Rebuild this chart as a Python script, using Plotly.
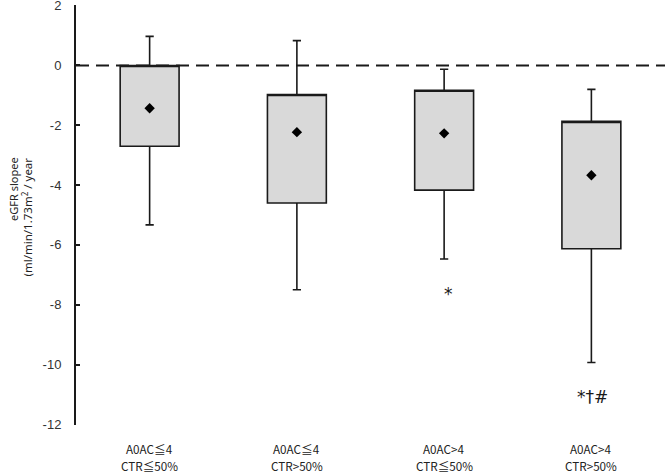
import plotly.graph_objects as go

cat_line1 = ["A0AC≦4", "A0AC≦4", "A0AC>4", "A0AC>4"]
cat_line2 = ["CTR≦50%", "CTR>50%", "CTR≦50%", "CTR>50%"]
q1 = [-2.70, -4.60, -4.17, -6.13]
q3 = [0.0, -0.97, -0.83, -1.87]
lower = [-5.33, -7.50, -6.47, -9.93]
upper = [0.97, 0.83, -0.13, -0.80]
means = [-1.43, -2.23, -2.27, -3.67]
sig_labels = ["", "", "*", "*†#"]
sig_y = [None, None, -7.63, -11.07]
ytick_vals = [2, 0, -2, -4, -6, -8, -10, -12]
ytick_text = ["2", "0", "-2", "-4", "-6", "-8", "-10", "-12"]

xpos = list(range(len(cat_line1)))

fig = go.Figure()
fig.add_trace(go.Box(
    x=xpos, q1=q1, q3=q3, median=q3, lowerfence=lower, upperfence=upper,
    fillcolor="#d9d9d9", line=dict(color="#1a1a1a", width=1.6),
    width=0.4, whiskerwidth=0.14, boxpoints=False, showlegend=False,
    hoverinfo="skip"))
fig.add_trace(go.Scatter(
    x=xpos, y=means, mode="markers",
    marker=dict(symbol="diamond", size=8, color="black"),
    showlegend=False, hoverinfo="skip"))

fig.add_shape(type="line", xref="paper", yref="y", x0=0, x1=1, y0=0, y1=0,
              line=dict(color="#1a1a1a", width=2, dash="13px,7px"), layer="below")

for i, (lab, yy) in enumerate(zip(sig_labels, sig_y)):
    if lab:
        fig.add_annotation(x=i + (0.03 if len(lab) == 1 else 0.01), y=yy, text=lab,
                           showarrow=False, font=dict(size=17, color="#1a1a1a",
                                                      family="DejaVu Sans"))

# category labels (two lines each)
for i in xpos:
    fig.add_annotation(x=i, xref="x", yref="paper", y=-0.0571, text=cat_line1[i],
                       showarrow=False, yanchor="middle",
                       font=dict(size=11.7, color="#222", family="Noto Sans CJK KR"))
    fig.add_annotation(x=i, xref="x", yref="paper", y=-0.0976, text=cat_line2[i],
                       showarrow=False, yanchor="middle",
                       font=dict(size=11.7, color="#222", family="Noto Sans CJK KR"))

# y-axis title (two lines, top-aligned)
fig.add_annotation(xref="paper", yref="paper", x=-0.1053, y=0.6429, xanchor="center",
                   yanchor="top", textangle=-90, showarrow=False,
                   text="eGFR slopee",
                   font=dict(size=11, color="#222", family="Noto Sans"))
fig.add_annotation(xref="paper", yref="paper", x=-0.0832, y=0.6429, xanchor="center",
                   yanchor="top", textangle=-90, showarrow=False,
                   text="(ml/min/1.73m<sup>2</sup> / year",
                   font=dict(size=11.5, color="#222", family="Noto Sans"))

fig.update_layout(
    width=665, height=475, margin=dict(l=76, r=0, t=5, b=50),
    plot_bgcolor="white", paper_bgcolor="white",
    xaxis=dict(range=[-0.5, 3.5], tickvals=xpos, ticktext=["", "", "", ""],
               showline=False, showgrid=False, zeroline=False, ticks="",
               automargin=False),
    yaxis=dict(range=[-12.02, 2.02], tickvals=ytick_vals, ticktext=ytick_text,
               showline=True, linecolor="#1a1a1a",
               linewidth=2, ticks="inside", ticklen=4, tickwidth=2, tickcolor="#1a1a1a",
               showgrid=False, zeroline=False, ticklabelstandoff=10, automargin=False,
               ticklabeloverflow="allow",
               tickfont=dict(size=13, color="#333", family="Liberation Sans")),
)

fig.write_html("out.html", config={"displayModeBar": False},
               post_script="document.body.style.margin='0';document.body.style.overflow='hidden';")
